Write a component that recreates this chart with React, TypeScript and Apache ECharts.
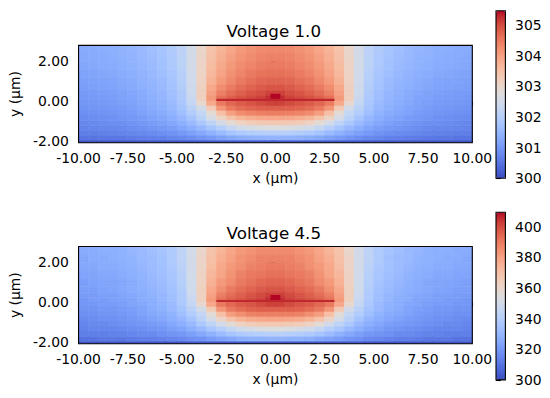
import { useEffect, useRef } from 'react';
import * as echarts from 'echarts';

// ---- data (µm, K) ----
const xEdges = [-10, -9.5, -9, -8.5, -8, -7.5, -7, -6.5, -6, -5.5, -5, -4.5, -4, -3.5, -3, -2.5, -2, -1.5, -1, -0.5, 0, 0.5, 1, 1.5, 2, 2.5, 3, 3.5, 4, 4.5, 5, 5.5, 6, 6.5, 7, 7.5, 8, 8.5, 9, 9.5, 10];
const yEdges = [2.8, 2.4, 2.0, 1.6, 1.2, 0.8, 0.5, 0.25, 0, -0.25, -0.5, -0.75, -1.0, -1.25, -1.5, -1.75, -2.0, -2.1];

const tempV10 = [
  [301.28, 301.31, 301.34, 301.37, 301.42, 301.47, 301.56, 301.64, 301.75, 301.91, 302.13, 302.51, 303.00, 303.44, 303.71, 303.93, 304.10, 304.20, 304.29, 304.31, 304.31, 304.29, 304.20, 304.10, 303.93, 303.71, 303.44, 303.00, 302.51, 302.13, 301.91, 301.75, 301.64, 301.56, 301.47, 301.42, 301.37, 301.34, 301.31, 301.28],
  [301.26, 301.28, 301.31, 301.34, 301.39, 301.45, 301.53, 301.61, 301.72, 301.88, 302.13, 302.51, 303.03, 303.49, 303.79, 304.01, 304.18, 304.29, 304.37, 304.40, 304.40, 304.37, 304.29, 304.18, 304.01, 303.79, 303.49, 303.03, 302.51, 302.13, 301.88, 301.72, 301.61, 301.53, 301.45, 301.39, 301.34, 301.31, 301.28, 301.26],
  [301.23, 301.26, 301.28, 301.31, 301.37, 301.42, 301.50, 301.58, 301.69, 301.86, 302.10, 302.51, 303.06, 303.55, 303.88, 304.10, 304.26, 304.37, 304.45, 304.48, 304.48, 304.45, 304.37, 304.26, 304.10, 303.88, 303.55, 303.06, 302.51, 302.10, 301.86, 301.69, 301.58, 301.50, 301.42, 301.37, 301.31, 301.28, 301.26, 301.23],
  [301.17, 301.20, 301.23, 301.26, 301.31, 301.37, 301.45, 301.53, 301.64, 301.80, 302.05, 302.48, 303.08, 303.63, 303.96, 304.20, 304.37, 304.48, 304.56, 304.59, 304.59, 304.56, 304.48, 304.37, 304.20, 303.96, 303.63, 303.08, 302.48, 302.05, 301.80, 301.64, 301.53, 301.45, 301.37, 301.31, 301.26, 301.23, 301.20, 301.17],
  [301.12, 301.15, 301.17, 301.20, 301.26, 301.31, 301.39, 301.47, 301.58, 301.75, 301.99, 302.46, 303.11, 303.74, 304.10, 304.31, 304.50, 304.61, 304.70, 304.72, 304.72, 304.70, 304.61, 304.50, 304.31, 304.10, 303.74, 303.11, 302.46, 301.99, 301.75, 301.58, 301.47, 301.39, 301.31, 301.26, 301.20, 301.17, 301.15, 301.12],
  [301.09, 301.12, 301.15, 301.17, 301.23, 301.28, 301.37, 301.45, 301.56, 301.72, 301.97, 302.43, 303.14, 303.88, 304.26, 304.48, 304.64, 304.75, 304.83, 304.89, 304.89, 304.83, 304.75, 304.64, 304.48, 304.26, 303.88, 303.14, 302.43, 301.97, 301.72, 301.56, 301.45, 301.37, 301.28, 301.23, 301.17, 301.15, 301.12, 301.09],
  [301.04, 301.06, 301.09, 301.12, 301.17, 301.23, 301.31, 301.39, 301.50, 301.67, 301.91, 302.40, 303.17, 303.99, 304.42, 304.64, 304.78, 304.89, 304.97, 305.08, 305.08, 304.97, 304.89, 304.78, 304.64, 304.42, 303.99, 303.17, 302.40, 301.91, 301.67, 301.50, 301.39, 301.31, 301.23, 301.17, 301.12, 301.09, 301.06, 301.04],
  [301.01, 301.04, 301.06, 301.09, 301.15, 301.20, 301.28, 301.37, 301.47, 301.64, 301.88, 302.35, 303.17, 304.10, 304.59, 304.78, 304.91, 305.00, 305.08, 305.24, 305.24, 305.08, 305.00, 304.91, 304.78, 304.59, 304.10, 303.17, 302.35, 301.88, 301.64, 301.47, 301.37, 301.28, 301.20, 301.15, 301.09, 301.06, 301.04, 301.01],
  [300.98, 301.01, 301.04, 301.06, 301.12, 301.17, 301.26, 301.34, 301.45, 301.58, 301.83, 302.24, 302.95, 303.88, 304.48, 304.70, 304.83, 304.91, 305.00, 305.08, 305.08, 305.00, 304.91, 304.83, 304.70, 304.48, 303.88, 302.95, 302.24, 301.83, 301.58, 301.45, 301.34, 301.26, 301.17, 301.12, 301.06, 301.04, 301.01, 300.98],
  [300.93, 300.96, 300.98, 301.01, 301.06, 301.12, 301.20, 301.28, 301.39, 301.53, 301.75, 302.10, 302.51, 303.28, 304.15, 304.48, 304.64, 304.72, 304.78, 304.80, 304.80, 304.78, 304.72, 304.64, 304.48, 304.15, 303.28, 302.51, 302.10, 301.75, 301.53, 301.39, 301.28, 301.20, 301.12, 301.06, 301.01, 300.98, 300.96, 300.93],
  [300.87, 300.90, 300.93, 300.96, 301.01, 301.06, 301.15, 301.23, 301.31, 301.45, 301.64, 301.94, 302.24, 302.84, 303.49, 304.04, 304.26, 304.37, 304.42, 304.45, 304.45, 304.42, 304.37, 304.26, 304.04, 303.49, 302.84, 302.24, 301.94, 301.64, 301.45, 301.31, 301.23, 301.15, 301.06, 301.01, 300.96, 300.93, 300.90, 300.87],
  [300.82, 300.85, 300.87, 300.90, 300.96, 301.01, 301.06, 301.15, 301.23, 301.34, 301.50, 301.75, 302.10, 302.57, 303.06, 303.44, 303.69, 303.82, 303.90, 303.93, 303.93, 303.90, 303.82, 303.69, 303.44, 303.06, 302.57, 302.10, 301.75, 301.50, 301.34, 301.23, 301.15, 301.06, 301.01, 300.96, 300.90, 300.87, 300.85, 300.82],
  [300.76, 300.79, 300.82, 300.85, 300.87, 300.93, 300.98, 301.04, 301.12, 301.23, 301.37, 301.56, 301.83, 302.16, 302.51, 302.84, 303.08, 303.22, 303.30, 303.33, 303.33, 303.30, 303.22, 303.08, 302.84, 302.51, 302.16, 301.83, 301.56, 301.37, 301.23, 301.12, 301.04, 300.98, 300.93, 300.87, 300.85, 300.82, 300.79, 300.76],
  [300.71, 300.74, 300.76, 300.76, 300.79, 300.85, 300.90, 300.96, 301.01, 301.09, 301.20, 301.34, 301.53, 301.77, 302.02, 302.27, 302.46, 302.57, 302.65, 302.68, 302.68, 302.65, 302.57, 302.46, 302.27, 302.02, 301.77, 301.53, 301.34, 301.20, 301.09, 301.01, 300.96, 300.90, 300.85, 300.79, 300.76, 300.76, 300.74, 300.71],
  [300.63, 300.63, 300.66, 300.68, 300.71, 300.74, 300.79, 300.82, 300.87, 300.93, 301.01, 301.12, 301.26, 301.42, 301.58, 301.75, 301.88, 301.97, 302.02, 302.05, 302.05, 302.02, 301.97, 301.88, 301.75, 301.58, 301.42, 301.26, 301.12, 301.01, 300.93, 300.87, 300.82, 300.79, 300.74, 300.71, 300.68, 300.66, 300.63, 300.63],
  [300.52, 300.52, 300.55, 300.55, 300.57, 300.60, 300.63, 300.66, 300.68, 300.74, 300.79, 300.87, 300.96, 301.06, 301.15, 301.26, 301.34, 301.39, 301.42, 301.45, 301.45, 301.42, 301.39, 301.34, 301.26, 301.15, 301.06, 300.96, 300.87, 300.79, 300.74, 300.68, 300.66, 300.63, 300.60, 300.57, 300.55, 300.55, 300.52, 300.52],
  [300.08, 300.08, 300.08, 300.08, 300.08, 300.08, 300.11, 300.11, 300.11, 300.11, 300.11, 300.14, 300.14, 300.14, 300.16, 300.16, 300.16, 300.16, 300.16, 300.16, 300.16, 300.16, 300.16, 300.16, 300.16, 300.16, 300.14, 300.14, 300.14, 300.11, 300.11, 300.11, 300.11, 300.11, 300.08, 300.08, 300.08, 300.08, 300.08, 300.08],
];

const tempV45 = [
  [326, 326, 327, 327, 328, 330, 331, 333, 335, 338, 343, 350, 360, 369, 374, 379, 382, 384, 386, 386, 386, 386, 384, 382, 379, 374, 369, 360, 350, 343, 338, 335, 333, 331, 330, 328, 327, 327, 326, 326],
  [325, 326, 326, 327, 328, 329, 331, 332, 334, 338, 343, 350, 361, 370, 376, 380, 384, 386, 388, 388, 388, 388, 386, 384, 380, 376, 370, 361, 350, 343, 338, 334, 332, 331, 329, 328, 327, 326, 326, 325],
  [325, 325, 326, 326, 327, 328, 330, 332, 334, 337, 342, 350, 361, 371, 378, 382, 385, 388, 389, 390, 390, 389, 388, 385, 382, 378, 371, 361, 350, 342, 337, 334, 332, 330, 328, 327, 326, 326, 325, 325],
  [324, 324, 325, 325, 326, 327, 329, 331, 333, 336, 341, 350, 362, 373, 379, 384, 388, 390, 391, 392, 392, 391, 390, 388, 384, 379, 373, 362, 350, 341, 336, 333, 331, 329, 327, 326, 325, 325, 324, 324],
  [322, 323, 324, 324, 325, 326, 328, 330, 332, 335, 340, 349, 362, 375, 382, 386, 390, 392, 394, 395, 395, 394, 392, 390, 386, 382, 375, 362, 349, 340, 335, 332, 330, 328, 326, 325, 324, 324, 323, 322],
  [322, 322, 323, 324, 325, 326, 327, 329, 331, 334, 339, 349, 363, 378, 385, 390, 393, 395, 397, 398, 398, 397, 395, 393, 390, 385, 378, 363, 349, 339, 334, 331, 329, 327, 326, 325, 324, 323, 322, 322],
  [321, 321, 322, 322, 324, 325, 326, 328, 330, 333, 338, 348, 363, 380, 389, 393, 396, 398, 400, 402, 402, 400, 398, 396, 393, 389, 380, 363, 348, 338, 333, 330, 328, 326, 325, 324, 322, 322, 321, 321],
  [320, 321, 321, 322, 323, 324, 326, 327, 330, 333, 338, 347, 363, 382, 392, 396, 398, 400, 402, 405, 405, 402, 400, 398, 396, 392, 382, 363, 347, 338, 333, 330, 327, 326, 324, 323, 322, 321, 321, 320],
  [320, 320, 321, 321, 322, 324, 325, 327, 329, 332, 337, 345, 359, 378, 390, 394, 397, 398, 400, 402, 402, 400, 398, 397, 394, 390, 378, 359, 345, 337, 332, 329, 327, 325, 324, 322, 321, 321, 320, 320],
  [319, 319, 320, 320, 321, 322, 324, 326, 328, 331, 335, 342, 350, 366, 383, 390, 393, 395, 396, 396, 396, 396, 395, 393, 390, 383, 366, 350, 342, 335, 331, 328, 326, 324, 322, 321, 320, 320, 319, 319],
  [318, 318, 319, 319, 320, 321, 323, 325, 326, 329, 333, 339, 345, 357, 370, 381, 385, 388, 389, 389, 389, 389, 388, 385, 381, 370, 357, 345, 339, 333, 329, 326, 325, 323, 321, 320, 319, 319, 318, 318],
  [316, 317, 318, 318, 319, 320, 321, 323, 325, 327, 330, 335, 342, 351, 361, 369, 374, 377, 378, 379, 379, 378, 377, 374, 369, 361, 351, 342, 335, 330, 327, 325, 323, 321, 320, 319, 318, 318, 317, 316],
  [315, 316, 316, 317, 318, 319, 320, 321, 322, 325, 327, 331, 337, 343, 350, 357, 362, 365, 366, 367, 367, 366, 365, 362, 357, 350, 343, 337, 331, 327, 325, 322, 321, 320, 319, 318, 317, 316, 316, 315],
  [314, 315, 315, 315, 316, 317, 318, 319, 320, 322, 324, 327, 331, 336, 340, 345, 349, 351, 353, 354, 354, 353, 351, 349, 345, 340, 336, 331, 327, 324, 322, 320, 319, 318, 317, 316, 315, 315, 315, 314],
  [313, 313, 313, 314, 314, 315, 316, 316, 318, 319, 320, 322, 325, 328, 332, 335, 338, 339, 340, 341, 341, 340, 339, 338, 335, 332, 328, 325, 322, 320, 319, 318, 316, 316, 315, 314, 314, 313, 313, 313],
  [310, 310, 311, 311, 311, 312, 313, 313, 314, 315, 316, 318, 319, 321, 323, 325, 327, 328, 328, 329, 329, 328, 328, 327, 325, 323, 321, 319, 318, 316, 315, 314, 313, 313, 312, 311, 311, 311, 310, 310],
  [302, 302, 302, 302, 302, 302, 302, 302, 302, 302, 302, 303, 303, 303, 303, 303, 303, 303, 303, 303, 303, 303, 303, 303, 303, 303, 303, 303, 303, 302, 302, 302, 302, 302, 302, 302, 302, 302, 302, 302],
];

// heater strip and waveguide block (µm) and their temperatures
const heaterX = [-3, 3];
const heaterY = [0, 0.11];
const waveguideX = [-0.25, 0.25];
const waveguideY = [0.11, 0.36];
const heaterTemp = [305.3, 406];
const waveguideTemp = [305.46, 409.4];

const titles = ['Voltage 1.0', 'Voltage 4.5'];
const tempRanges = [[300, 305.46], [300, 409.4]];
const cbTicks = [[300, 301, 302, 303, 304, 305], [300, 320, 340, 360, 380, 400]];
const yTickValues = [-2, 0, 2];

// ---- style ----
const COOLWARM = ['#3b4cc0', '#445acc', '#4d68d7', '#5775e1', '#6282ea', '#6c8ef1', '#779af7', '#82a5fb', '#8db0fe', '#98b9ff', '#a3c2ff', '#aec9fd', '#b8d0f9', '#c2d5f4', '#ccd9ee', '#d5dbe6', '#dddddd', '#e5d8d1', '#ecd3c5', '#f1ccb8', '#f5c4ac', '#f7bba0', '#f7b194', '#f7a689', '#f49a7b', '#f18d6f', '#ec7f63', '#e57058', '#de604d', '#d55042', '#cb3e38', '#c0282f', '#b40426'];
const FONT = 'DejaVu Sans';
const PLOT_TOPS = [45.4, 246.5];
const PLOT_LEFT = 75.3;
const PLOT_W = 397;
const PLOT_H = 97.3;
const CB_TOPS = [10.7, 212.3];
const CB_LEFT = 496;
const CB_W = 9.4;
const CB_H = 167.6;

function buildCells(temps: number[][]) {
  const out: number[][] = [];
  for (let r = 0; r < temps.length; r++) {
    for (let c = 0; c < temps[r].length; c++) {
      out.push([xEdges[c], xEdges[c + 1], yEdges[r + 1], yEdges[r], temps[r][c]]);
    }
  }
  return out;
}

const renderRect = (stroke: boolean) => (params: any, api: any) => {
  const p0 = api.coord([api.value(0), api.value(3)]);
  const p1 = api.coord([api.value(1), api.value(2)]);
  const color = api.visual('color');
  return {
    type: 'rect',
    shape: { x: p0[0], y: p0[1], width: p1[0] - p0[0], height: p1[1] - p0[1] },
    style: stroke ? { fill: color, stroke: color, lineWidth: 0.6 } : { fill: color },
  };
};

export default function App() {
  const ref = useRef<HTMLDivElement>(null);
  useEffect(() => {
    if (!ref.current) return;
    const chart = echarts.init(ref.current, null, { renderer: 'svg' });
    const temps = [tempV10, tempV45];
    const grid: any[] = [];
    const xAxis: any[] = [];
    const yAxis: any[] = [];
    const series: any[] = [];
    const visualMap: any[] = [];
    const graphic: any[] = [];
    const tickStyle = { color: '#000', width: 1.1 };
    for (let i = 0; i < 2; i++) {
      grid.push({ left: PLOT_LEFT, top: PLOT_TOPS[i], width: PLOT_W, height: PLOT_H, show: true, borderColor: '#000', borderWidth: 1.1, backgroundColor: 'transparent', z: 10 });
      grid.push({ left: CB_LEFT, top: CB_TOPS[i], width: CB_W, height: CB_H, show: true, borderColor: '#000', borderWidth: 1.1, backgroundColor: 'transparent', z: 10 });
      const gp = 2 * i;
      const gc = 2 * i + 1;
      xAxis.push({
        gridIndex: gp, type: 'value', min: -10, max: 10, interval: 2.5,
        axisLine: { show: false },
        axisTick: { show: true, length: 4.9, lineStyle: tickStyle },
        axisLabel: { show: true, margin: 8, fontSize: 13.9, color: '#000', fontFamily: FONT, showMinLabel: true, showMaxLabel: true, formatter: (v: number) => v.toFixed(2) },
        splitLine: { show: false },
        name: 'x (µm)', nameLocation: 'middle', nameGap: 28,
        nameTextStyle: { fontSize: 13.9, color: '#000', fontFamily: FONT },
      });
      yAxis.push({
        gridIndex: gp, type: 'value', min: -2.1, max: 2.8,
        axisLine: { show: false },
        axisTick: { show: true, length: 4.9, lineStyle: tickStyle, customValues: yTickValues },
        axisLabel: { show: true, margin: 9.7, fontSize: 13.9, color: '#000', fontFamily: FONT, customValues: yTickValues, formatter: (v: number) => v.toFixed(2) },
        splitLine: { show: false },
        name: 'y (µm)', nameLocation: 'middle', nameGap: 53, nameRotate: 90,
        nameTextStyle: { fontSize: 13.9, color: '#000', fontFamily: FONT },
      });
      xAxis.push({ gridIndex: gc, type: 'value', min: 0, max: 1, show: false });
      yAxis.push({
        gridIndex: gc, type: 'value', position: 'right', min: tempRanges[i][0], max: tempRanges[i][1],
        axisLine: { show: false },
        axisTick: { show: true, length: 4.9, lineStyle: tickStyle, customValues: cbTicks[i] },
        axisLabel: { show: true, margin: 9.7, fontSize: 13.9, color: '#000', fontFamily: FONT, customValues: cbTicks[i], formatter: (v: number) => String(v) },
        splitLine: { show: false },
      });
      series.push({
        type: 'custom', xAxisIndex: gp, yAxisIndex: gp, clip: true,
        renderItem: renderRect(true),
        dimensions: ['x0', 'x1', 'y0', 'y1', 't'],
        encode: { x: [0, 1], y: [2, 3] },
        data: buildCells(temps[i]),
        silent: true,
      });
      series.push({
        type: 'custom', xAxisIndex: gp, yAxisIndex: gp, clip: true,
        renderItem: renderRect(false),
        dimensions: ['x0', 'x1', 'y0', 'y1', 't'],
        encode: { x: [0, 1], y: [2, 3] },
        data: [
          [heaterX[0], heaterX[1], heaterY[0], heaterY[1], heaterTemp[i]],
          [waveguideX[0], waveguideX[1], waveguideY[0], waveguideY[1], waveguideTemp[i]],
        ],
        silent: true,
      });
      visualMap.push({
        type: 'continuous', seriesIndex: [2 * i, 2 * i + 1], dimension: 4,
        min: tempRanges[i][0], max: tempRanges[i][1],
        inRange: { color: COOLWARM },
        calculable: false, hoverLink: false, realtime: false,
        left: CB_LEFT, top: CB_TOPS[i], itemWidth: CB_W, itemHeight: CB_H,
        padding: 0, orient: 'vertical', z: 2, text: undefined,
      });
      graphic.push({
        type: 'text', x: PLOT_LEFT + PLOT_W / 2, y: PLOT_TOPS[i] - 14,
        style: { text: titles[i], fontSize: 16.7, fontFamily: FONT, fill: '#000', align: 'center', verticalAlign: 'middle' },
      });
    }
    chart.setOption({
      animation: false,
      backgroundColor: '#fff',
      textStyle: { fontFamily: FONT },
      grid, xAxis, yAxis, series, visualMap, graphic,
    });
    return () => chart.dispose();
  }, []);
  return <div ref={ref} style={{ position: 'absolute', left: 0, top: 0, width: 550, height: 398, background: '#fff' }} />;
}
